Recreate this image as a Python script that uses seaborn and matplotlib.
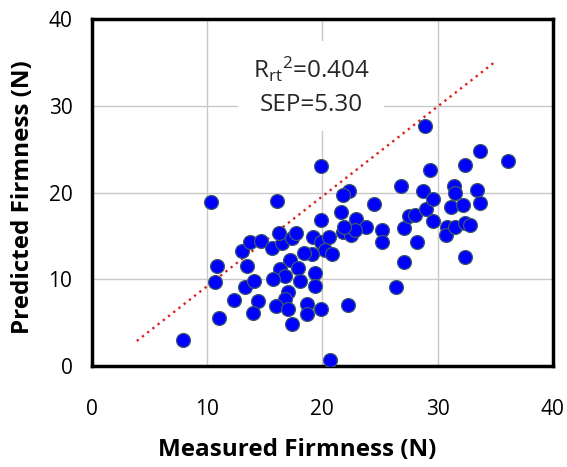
import matplotlib
matplotlib.use("Agg")
import matplotlib.pyplot as plt
import seaborn as sns
import pandas as pd

measured = [7.9, 10.3, 10.7, 10.9, 11.0, 12.3, 13.0, 13.7, 14.7, 13.5, 13.3, 14.1, 14.4, 14.0,
            15.6, 16.5, 16.2, 17.4, 17.7, 16.1, 17.2, 16.3, 16.8, 15.7, 17.9, 18.1, 19.4, 19.4,
            17.0, 16.8, 16.0, 17.0, 17.4, 18.7, 18.7, 19.9, 19.9, 19.2, 19.9, 20.6, 20.2, 20.8,
            19.1, 18.4, 19.9, 20.7, 22.3, 21.8, 21.6, 22.9, 23.8, 21.8, 22.5, 22.8, 21.9, 22.2,
            24.5, 25.2, 25.2, 26.4, 26.8, 27.1, 27.1, 27.5, 28.0, 28.2, 28.7, 29.0, 28.9, 29.3,
            29.6, 29.6, 30.8, 30.7, 31.4, 31.5, 31.2, 31.5, 32.2, 32.4, 32.8, 32.4, 32.4, 33.4,
            33.7, 33.7, 36.1]
predicted = [3.0, 18.9, 9.7, 11.6, 5.6, 7.6, 13.3, 14.3, 14.4, 11.6, 9.1, 9.8, 7.5, 6.1,
             13.6, 14.2, 15.3, 14.8, 15.3, 19.0, 12.2, 11.2, 10.4, 10.0, 11.3, 9.8, 10.7, 9.2,
             8.5, 7.7, 6.9, 6.6, 4.8, 7.2, 6.0, 6.6, 16.8, 14.9, 14.3, 14.9, 13.4, 12.9,
             12.9, 13.0, 23.1, 0.7, 20.2, 19.7, 17.8, 17.0, 16.0, 15.5, 15.1, 15.7, 16.0, 7.0,
             18.7, 15.7, 14.3, 9.1, 20.8, 15.9, 12.0, 17.3, 17.4, 14.3, 20.2, 18.1, 27.7, 22.6,
             19.3, 16.7, 16.0, 15.1, 20.8, 20.0, 18.3, 16.0, 18.6, 16.5, 16.3, 12.6, 23.2, 20.3,
             18.8, 24.8, 23.6]

line_x = [3.9, 35.1]
line_y = [2.9, 35.2]

x_ticks = [0, 10, 20, 30, 40]
y_ticks = [0, 10, 20, 30, 40]

stats_text = "R$_{\\mathrm{rt}}$$^{2}$=0.404\nSEP=5.30"

df = pd.DataFrame({"Measured": measured, "Predicted": predicted})
line_df = pd.DataFrame({"x": line_x, "y": line_y})

sns.set_style("white")
plt.rcParams["font.family"] = ["Open Sans", "DejaVu Sans"]
plt.rcParams["mathtext.fontset"] = "custom"
plt.rcParams["mathtext.rm"] = "Open Sans"
plt.rcParams["mathtext.it"] = "Open Sans"

fig = plt.figure(figsize=(5.67, 4.67), dpi=100)
ax = fig.add_axes([0.162, 0.216, 0.813, 0.743])

sns.lineplot(data=line_df, x="x", y="y", ax=ax, color="#dd2222", linestyle=(0, (1, 1.8)),
             linewidth=1.7, zorder=2)
sns.scatterplot(data=df, x="Measured", y="Predicted", ax=ax, color="#0000ff",
                edgecolor="#3c5a6a", linewidth=0.9, s=100, zorder=3)

ax.set_xlim(0, 40)
ax.set_ylim(0, 40)
ax.set_xticks(x_ticks)
ax.set_yticks(y_ticks)
ax.grid(True, color="#c8c8c8", linewidth=1.0)
ax.set_axisbelow(True)
ax.tick_params(length=0, labelsize=15, colors="black")
ax.tick_params(axis="x", pad=24)
ax.tick_params(axis="y", pad=14)
for sp in ax.spines.values():
    sp.set_color("black")
    sp.set_linewidth(2.5)

ax.set_xlabel("Measured Firmness (N)", fontsize=17.5, fontweight="bold", color="black")
ax.set_ylabel("Predicted Firmness (N)", fontsize=17.5, fontweight="bold", color="black")
ax.xaxis.label.set_va("center")
ax.yaxis.label.set_va("center")
ax.xaxis.set_label_coords(0.445, -0.242)
ax.yaxis.set_label_coords(-0.150, 0.487)

ax.text(19.0, 32.3, stats_text, ha="center", va="center", multialignment="center",
        fontsize=17.5, linespacing=1.45, zorder=4,
        bbox=dict(facecolor="white", edgecolor="none", boxstyle="square,pad=0.6"))

fig.savefig("out.png", dpi=100)
